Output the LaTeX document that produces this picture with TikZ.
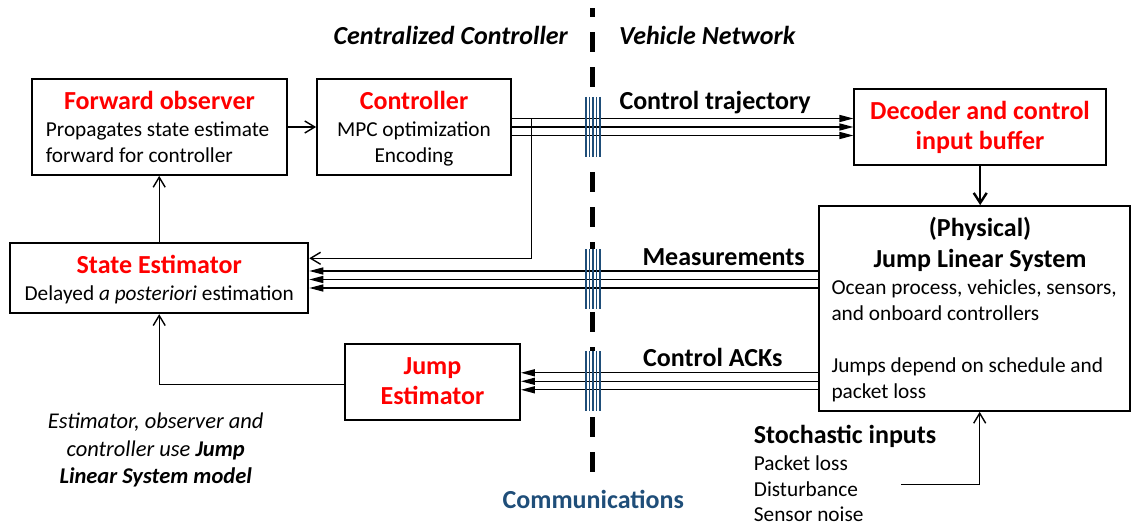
\documentclass[tikz,border=0pt]{standalone}
\usepackage{fontspec}
\setmainfont{Carlito}
\usetikzlibrary{arrows.meta,calc}
\definecolor{myred}{RGB}{255,0,0}
\definecolor{commblue}{RGB}{31,78,121}
\tikzset{
  box/.style={draw=black, line width=1.8pt, fill=white, inner sep=0pt},
  conn/.style={line width=1.4pt},
  openarr/.style={conn, -{Straight Barb[length=10pt,width=12pt,line width=1.4pt]}},
  fillarr/.style={conn, -{Triangle[length=14pt,width=7pt]}},
  head/.style={font=\fontsize{26}{30}\selectfont\bfseries, text=myred, anchor=base, inner sep=0pt},
  body/.style={font=\fontsize{21.3}{25.7}\selectfont, anchor=base, inner sep=0pt},
  bodyl/.style={body, anchor=base west},
  lbl/.style={font=\fontsize{26}{30}\selectfont\bfseries, anchor=base west, inner sep=0pt},
  notetxt/.style={font=\fontsize{22.5}{28}\selectfont\itshape, anchor=base, inner sep=0pt},
  barline/.style={draw=commblue, line width=1.8pt},
}
\begin{document}
\begin{tikzpicture}[x=1pt,y=-1pt]
\useasboundingbox (0,0) rectangle (1133,526);

% dashed separator
\draw[line width=5pt, dash pattern=on 20pt off 15pt] (592.7,472) -- (592.7,8);

% boxes
\node[box, minimum width=254.4pt, minimum height=96pt] (fo) at (159.5,127) {};
\node[box, minimum width=194pt, minimum height=96pt] (ctrl) at (414,127) {};
\node[box, minimum width=251.7pt, minimum height=75.7pt] (dec) at (980.2,127.2) {};
\node[box, minimum width=311.3pt, minimum height=205pt] (jls) at (974.4,308.5) {};
\node[box, minimum width=298.3pt, minimum height=70.6pt] (se) at (159.2,278) {};
\node[box, minimum width=175pt, minimum height=76pt] (je) at (432.5,382) {};

% top titles
\node[font=\fontsize{26}{30}\selectfont\bfseries\itshape, anchor=base east, inner sep=0pt] (tcc) at (568,45) {Centralized Controller};
\node[font=\fontsize{26}{30}\selectfont\bfseries\itshape, anchor=base west, inner sep=0pt] (tvn) at (619,45) {Vehicle Network};

% box texts
\node[head] (fot) at (159.5,110) {Forward observer};
\node[bodyl] (fo1) at (45.7,136.7) {Propagates state estimate};
\node[bodyl] (fo2) at (45.7,162.3) {forward for controller};

\node[head] (ctt) at (414,110) {Controller};
\node[body] (ct1) at (414,136.7) {MPC optimization};
\node[body] (ct2) at (414,162.3) {Encoding};

\node[head] (dt1) at (980,120) {Decoder and control};
\node[head] (dt2) at (980,150) {input buffer};

\node[head, text=black] (jt1) at (980,236.7) {(Physical)};
\node[head, text=black] (jt2) at (980,267.3) {Jump Linear System};
\node[bodyl] (jb1) at (831.3,295) {Ocean process, vehicles, sensors,};
\node[bodyl] (jb2) at (831.3,320.7) {and onboard controllers};
\node[bodyl] (jb3) at (831.3,372.7) {Jumps depend on schedule and};
\node[bodyl] (jb4) at (831.3,398.3) {packet loss};

\node[head] (st) at (159.2,273.3) {State Estimator};
\node[body] (sb) at (159.2,300.7) {Delayed \textit{a posteriori} estimation};

\node[head] (je1) at (432.5,374.3) {Jump};
\node[head] (je2) at (432.5,405) {Estimator};

% labels
\node[lbl] (lct) at (619.3,110) {Control trajectory};
\node[lbl] (lme) at (642.3,266) {Measurements};
\node[lbl] (lack) at (643,366.7) {Control ACKs};
\node[lbl] (lsto) at (753.7,443.3) {Stochastic inputs};
\node[bodyl] (s1) at (753.7,471) {Packet loss};
\node[bodyl] (s2) at (753.7,496.7) {Disturbance};
\node[bodyl] (s3) at (753.7,521.7) {Sensor noise};
\node[font=\fontsize{26}{30}\selectfont\bfseries, text=commblue, anchor=base, inner sep=0pt] (comm) at (593.3,508.3) {Communications};

\node[notetxt] (note1) at (155.7,428.3) {Estimator, observer and};
\node[notetxt] (note2) at (155.7,456.7) {controller use \textbf{Jump}};
\node[notetxt] (note3) at (155.7,484) {\textbf{Linear System model}};

% white backing of the comm bars
\foreach \yc in {127,279.5,381.3} {
  \fill[white] (584.5,\yc-30) rectangle (601.5,\yc+30);
}

% connectors
\draw[openarr] (fo.east) -- (ctrl.west);
\draw[openarr] (se.north) -- (se.north |- fo.south);
\foreach \dy in {-8.5,0,8.5} {
  \draw[fillarr] ($(ctrl.east)+(0,\dy)$) -- ($(dec.west)+(0,\dy-0.2)$);
}
\coordinate (jn) at ($(ctrl.east)+(19.7,-8.5)$);
\coordinate (fb) at (400,258.3);
\draw[openarr] (jn) |- (se.east |- fb);
\coordinate (mm) at (700,279.5);
\coordinate (aa) at (700,381.3);
\foreach \dy in {-8.5,0,8.5} {
  \draw[fillarr] ($(jls.west |- mm)+(0,\dy)$) -- ($(se.east |- mm)+(0,\dy)$);
  \draw[fillarr] ($(jls.west |- aa)+(0,\dy)$) -- ($(je.east |- aa)+(0,\dy)$);
}
\draw[line width=2.4pt, -{Straight Barb[length=10pt,width=13pt,line width=2.4pt]}] (dec.south) -- (dec.south |- jls.north);
\draw[openarr] ($(je.west)+(0,2.3)$) -| (se.south);
\coordinate (sto) at (901.3,484.3);
\coordinate (stoc) at (979.7,484.3);
\draw[openarr] (sto) -- (stoc) -- (stoc |- jls.south);

% comm bars
\foreach \yc in {127,279.5,381.3} {
  \foreach \xx in {586,589.5,593,596.5,600} {
    \draw[barline] (\xx,\yc-30) -- (\xx,\yc+30);
  }
}
\end{tikzpicture}
\end{document}
